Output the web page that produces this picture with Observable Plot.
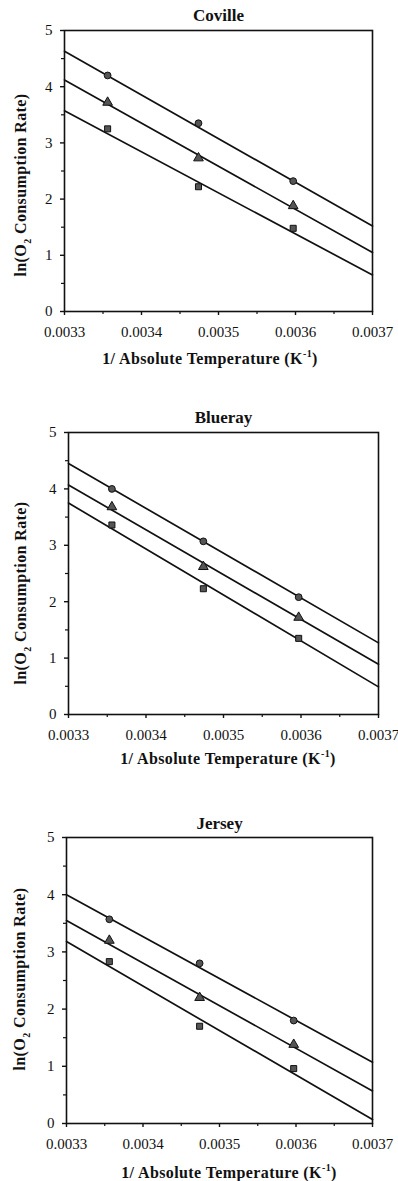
<!DOCTYPE html>
<html>
<head>
<meta charset="utf-8">
<script src="https://cdn.jsdelivr.net/npm/d3@7"></script>
<script src="https://cdn.jsdelivr.net/npm/@observablehq/plot@0.6"></script>
<style>
  html, body { margin: 0; padding: 0; background: #fff; }
  body { width: 398px; height: 1181px; position: relative; overflow: hidden;
         font-family: "Liberation Serif", "Times New Roman", serif; color: #111; }
  .panel { position: absolute; left: 0; width: 398px; }
  .xlabel, .ylabel { position: absolute; font-weight: bold; font-size: 16px; white-space: nowrap; letter-spacing: 0.4px; line-height: 1; }
  .xlabel { transform: translate(-50%, -50%); }
  .ylabel { transform: translate(-50%, -50%) rotate(-90deg); }
  .xlabel sup { font-size: 10px; }
  .ylabel sub { font-size: 10px; }
</style>
</head>
<body>
<script>
// ---- data ----
const invTemp = [0.003356, 0.003474, 0.003597];      // 1/T (K^-1) of measured points
const fitX = [0.0033, 0.0037];                        // fitted line endpoints
const xTicks = [0.0033, 0.0034, 0.0035, 0.0036, 0.0037];
const xMinor = [0.00335, 0.00345, 0.00355, 0.00365];
const yTicks = [0, 1, 2, 3, 4, 5];
const yMinor = [0.5, 1.5, 2.5, 3.5, 4.5];
const panelTitles = ["Coville", "Blueray", "Jersey"];

// Coville
const covilleCircle = [4.20, 3.35, 2.32];
const covilleTriangle = [3.72, 2.73, 1.88];
const covilleSquare = [3.25, 2.22, 1.48];
const covilleCircleFit = [4.63, 1.52];
const covilleTriangleFit = [4.12, 1.05];
const covilleSquareFit = [3.57, 0.65];

// Blueray
const bluerayCircle = [4.00, 3.07, 2.08];
const bluerayTriangle = [3.68, 2.62, 1.72];
const bluraySquare = [3.36, 2.23, 1.35];
const bluerayCircleFit = [4.45, 1.27];
const bluerayTriangleFit = [4.07, 0.89];
const bluraySquareFit = [3.75, 0.49];

// Jersey
const jerseyCircle = [3.57, 2.80, 1.80];
const jerseyTriangle = [3.20, 2.20, 1.38];
const jerseySquare = [2.83, 1.70, 0.96];
const jerseyCircleFit = [4.00, 1.07];
const jerseyTriangleFit = [3.55, 0.57];
const jerseySquareFit = [3.18, 0.07];

const panels = [
  {title: panelTitles[0], top: 0, height: 340, mt: 30, mb: 29, ml: 64, mr: 26, xlx: 210, xly: 358, ylx: 23, yly: 185, titleDy: -15,
   pts: [covilleCircle, covilleTriangle, covilleSquare], fits: [covilleCircleFit, covilleTriangleFit, covilleSquareFit]},
  {title: panelTitles[1], top: 400, height: 343, mt: 32, mb: 29, ml: 68, mr: 20, xlx: 228, xly: 358, ylx: 23, yly: 193, titleDy: -15,
   pts: [bluerayCircle, bluerayTriangle, bluraySquare], fits: [bluerayCircleFit, bluerayTriangleFit, bluraySquareFit]},
  {title: panelTitles[2], top: 800, height: 352, mt: 37, mb: 29, ml: 66, mr: 26, xlx: 229, xly: 372, ylx: 22, yly: 179, titleDy: -14,
   pts: [jerseyCircle, jerseyTriangle, jerseySquare], fits: [jerseyCircleFit, jerseyTriangleFit, jerseySquareFit]}
];

const symbols = ["circle", "triangle", "square"];

for (const p of panels) {
  const marks = [
    Plot.axisX({ticks: xMinor, tickSize: 3, tickFormat: () => "", label: null, strokeWidth: 1.2}),
    Plot.axisX({ticks: xTicks, tickSize: 4, tickPadding: 11, tickFormat: d3.format(".4f"), label: null, fontSize: 15, strokeWidth: 1.4}),
    Plot.axisY({ticks: yMinor, tickSize: 3, tickFormat: () => "", label: null, strokeWidth: 1.2}),
    Plot.axisY({ticks: yTicks, tickSize: 4, tickPadding: 8, tickFormat: d3.format("d"), label: null, fontSize: 15, strokeWidth: 1.4}),
    Plot.frame({stroke: "#111", strokeWidth: 1.6})
  ];
  p.fits.forEach(f => {
    marks.push(Plot.line(fitX.map((x, i) => ({x, y: f[i]})), {x: "x", y: "y", stroke: "#111", strokeWidth: 1.7}));
  });
  p.pts.forEach((vals, k) => {
    marks.push(Plot.dot(invTemp.map((x, i) => ({x, y: vals[i]})), {
      x: "x", y: "y", symbol: symbols[k], r: k === 1 ? 3.6 : 3.4, fill: "#555", stroke: "#111", strokeWidth: 1
    }));
  });
  marks.push(Plot.text([p.title], {frameAnchor: "top", lineAnchor: "middle", dy: p.titleDy, fontWeight: "bold", fontSize: 17, fill: "#111"}));

  const chart = Plot.plot({
    width: 398, height: p.height,
    marginTop: p.mt, marginBottom: p.mb, marginLeft: p.ml, marginRight: p.mr,
    style: {fontFamily: '"Liberation Serif", "Times New Roman", serif', fontSize: "15px", color: "#111", background: "#fff"},
    x: {domain: [0.0033, 0.0037]},
    y: {domain: [0, 5]},
    marks
  });
  const div = document.createElement("div");
  div.className = "panel";
  div.style.top = p.top + "px";
  div.style.height = (p.height + 40) + "px";
  div.appendChild(chart);
  const xl = document.createElement("div");
  xl.className = "xlabel";
  xl.style.left = p.xlx + "px";
  xl.style.top = p.xly + "px";
  xl.innerHTML = "1/ Absolute Temperature (K<sup>-1</sup>)";
  div.appendChild(xl);
  const yl = document.createElement("div");
  yl.className = "ylabel";
  yl.style.left = p.ylx + "px";
  yl.style.top = p.yly + "px";
  yl.innerHTML = "ln(O<sub>2</sub> Consumption Rate)";
  div.appendChild(yl);
  document.body.appendChild(div);
}
</script>
</body>
</html>
